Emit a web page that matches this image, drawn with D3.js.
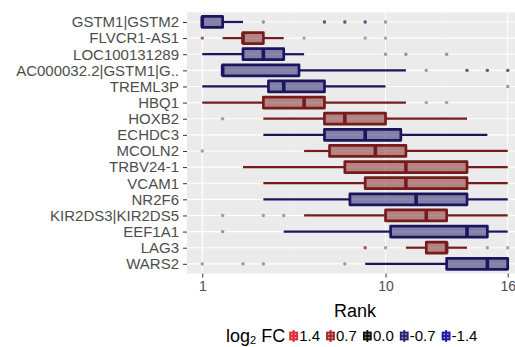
<!DOCTYPE html>
<html lang="en">
  <head>
    <meta charset="utf-8" />
    <title>rank boxplots</title>
    <script type="text/javascript" src="https://d3js.org/d3.v7.min.js"></script>
    <style>
      body { margin: 0; background: #fff; }
      text { font-family: "Liberation Sans", Arial, sans-serif; }
    </style>
  </head>
  <body>
    <div id="chart"></div>
    <script type="text/javascript">
      /********************************
       * data
       ********************************/

      const genes = [
        "GSTM1|GSTM2", "FLVCR1-AS1", "LOC100131289", "AC000032.2|GSTM1|G..",
        "TREML3P", "HBQ1", "HOXB2", "ECHDC3", "MCOLN2", "TRBV24-1", "VCAM1",
        "NR2F6", "KIR2DS3|KIR2DS5", "EEF1A1", "LAG3", "WARS2",
      ];
      const direction = ["down", "up", "down", "down", "down", "up", "up", "down",
                         "up", "up", "up", "down", "up", "down", "up", "down"];
      const whiskerLo = [1, 2, 1, 2, 1, 1, 4, 4, 6, 3, 4, 4, 6, 5, 11, 9];
      const q1 =        [1, 3, 3, 2, 4.25, 4, 7, 7, 7.25, 8, 9, 8.25, 10, 10.25, 12, 13];
      const median =    [1, 3, 4, 2, 5, 6, 8, 9, 9.5, 11, 11, 11.5, 12, 14, 13, 15];
      const q3 =        [2, 4, 5, 5.75, 7, 7, 10, 10.75, 11, 14, 14, 14, 13, 15, 13, 16];
      const whiskerHi = [3, 5, 6, 11, 10, 11, 14, 15, 16, 16, 16, 16, 16, 16, 14, 16];
      const outliers = [
        [4, 7, 7, 8, 8, 9, 9, 10],
        [1, 1, 6, 9, 10],
        [10, 11, 13],
        [12, 14, 14, 15, 15, 16, 16],
        [16],
        [12, 13],
        [2],
        [],
        [1],
        [],
        [],
        [],
        [2, 4, 5],
        [2],
        [9, 9, 10, 15, 16],
        [1, 3, 4, 8],
      ];

      const xTicks = [1, 10, 16];
      const xMinor = [5.5, 13];
      const legendLabels = ["1.4", "0.7", "0.0", "-0.7", "-1.4"];
      const legendColors = ["#dd2a30", "#a3292a", "#111111", "#2b2270", "#1b1aa6"];

      /***************************
       * svg + scales
       **************************/

      const width = 515;
      const height = 347;
      const panel = { left: 187, right: 523, top: 12.3, bottom: 273.5 };

      const svg = d3
        .select("div#chart")
        .append("svg")
        .attr("width", width)
        .attr("height", height);

      const x = d3.scaleLinear().domain([0.25, 16.75]).range([panel.left, panel.right]);
      const y = d3.scalePoint().domain(genes).range([panel.top, panel.bottom]).padding(0.6);

      const strokeColor = { up: "#771b1b", down: "#1b1560" };
      const boxH = 11;

      // panel background and grid
      svg.append("rect")
        .attr("x", panel.left).attr("y", panel.top)
        .attr("width", panel.right - panel.left)
        .attr("height", panel.bottom - panel.top)
        .attr("fill", "#ebebeb");

      svg.selectAll("line.minor")
        .data(xMinor)
        .enter()
        .append("line")
        .attr("x1", (d) => x(d)).attr("x2", (d) => x(d))
        .attr("y1", panel.top).attr("y2", panel.bottom)
        .style("stroke", "#f5f5f5").style("stroke-width", 0.6);

      svg.selectAll("line.vmajor")
        .data(xTicks)
        .enter()
        .append("line")
        .attr("x1", (d) => x(d)).attr("x2", (d) => x(d))
        .attr("y1", panel.top).attr("y2", panel.bottom)
        .style("stroke", "#fff").style("stroke-width", 1.1);

      svg.selectAll("line.hmajor")
        .data(genes)
        .enter()
        .append("line")
        .attr("x1", panel.left).attr("x2", panel.right)
        .attr("y1", (d) => y(d)).attr("y2", (d) => y(d))
        .style("stroke", "#fff").style("stroke-width", 1.1);

      /*******************
       * boxplots
       *********************/

      const rows = genes.map((g, i) => ({
        gene: g, dir: direction[i], lo: whiskerLo[i], q1: q1[i],
        med: median[i], q3: q3[i], hi: whiskerHi[i], out: outliers[i],
      }));

      const box = svg.selectAll("g.box")
        .data(rows)
        .enter()
        .append("g")
        .attr("transform", (d) => `translate(0,${y(d.gene)})`);

      box.append("line")
        .attr("x1", (d) => x(d.lo)).attr("x2", (d) => x(d.q1))
        .style("stroke", (d) => strokeColor[d.dir]).style("stroke-width", 2.2);
      box.append("line")
        .attr("x1", (d) => x(d.q3)).attr("x2", (d) => x(d.hi))
        .style("stroke", (d) => strokeColor[d.dir]).style("stroke-width", 2.2);

      box.append("rect")
        .attr("x", (d) => x(d.q1))
        .attr("y", -boxH / 2)
        .attr("width", (d) => x(d.q3) - x(d.q1))
        .attr("height", boxH)
        .attr("fill", (d) => strokeColor[d.dir])
        .attr("fill-opacity", 0.5)
        .attr("stroke", (d) => strokeColor[d.dir])
        .attr("stroke-width", 2.7)
        .attr("stroke-linejoin", "round");

      box.append("line")
        .attr("x1", (d) => x(d.med)).attr("x2", (d) => x(d.med))
        .attr("y1", -boxH / 2).attr("y2", boxH / 2)
        .style("stroke", (d) => strokeColor[d.dir]).style("stroke-width", 3.6);

      box.selectAll("circle")
        .data((d) => d.out.map((v) => ({ v: v, dir: d.dir })))
        .enter()
        .append("circle")
        .attr("cx", (d) => x(d.v))
        .attr("r", 1.7)
        .attr("fill", (d) => strokeColor[d.dir])
        .attr("fill-opacity", 0.45);

      /************************
       * axes
       ***********************/

      const yAxis = svg.append("g")
        .attr("transform", `translate(${panel.left},0)`)
        .call(d3.axisLeft(y).tickSize(4).tickPadding(4));
      const xAxis = svg.append("g")
        .attr("transform", `translate(0,${panel.bottom})`)
        .call(d3.axisBottom(x).tickValues(xTicks).tickSize(4).tickPadding(4).tickFormat(d3.format("d")));

      [yAxis, xAxis].forEach((a) => {
        a.select(".domain").remove();
        a.selectAll(".tick line").attr("stroke", "#333").attr("stroke-width", 1);
        a.selectAll(".tick text")
          .attr("fill", "#4d4d4d")
          .style("font-size", "15px")
          .style("font-family", '"Liberation Sans", Arial, sans-serif');
      });
      xAxis.selectAll(".tick text").style("font-size", "14px");

      svg.append("text")
        .attr("x", (panel.left + panel.right) / 2)
        .attr("y", 317)
        .attr("text-anchor", "middle")
        .style("font-size", "18px")
        .attr("fill", "#000")
        .text("Rank");

      /*******************
       * legend
       ***********************/

      const legend = svg.append("g").attr("transform", "translate(226,336)");
      const title = legend.append("text")
        .attr("y", 6)
        .style("font-size", "18px")
        .attr("fill", "#000");
      title.append("tspan").text("log");
      title.append("tspan").text("2").style("font-size", "11px").attr("dy", 2);
      title.append("tspan").text(" FC").attr("dy", -2);

      let lx = title.node().getComputedTextLength() + 5;
      legendLabels.forEach((lab, i) => {
        const c = legendColors[i];
        const k = legend.append("g").attr("transform", `translate(${lx},0)`);
        k.append("line").attr("x1", 3.5).attr("x2", 3.5).attr("y1", -6).attr("y2", 6)
          .style("stroke", c).style("stroke-width", 1.8);
        k.append("rect").attr("x", 0).attr("y", -3.5).attr("width", 7).attr("height", 7)
          .attr("fill", c).attr("fill-opacity", 0.5)
          .attr("stroke", c).attr("stroke-width", 1.8);
        k.append("line").attr("x1", 0).attr("x2", 7).attr("y1", 0).attr("y2", 0)
          .style("stroke", c).style("stroke-width", 1.8);
        const t = k.append("text")
          .attr("x", 9).attr("y", 5)
          .style("font-size", "15px")
          .attr("fill", "#000")
          .text(lab);
        lx += 9 + t.node().getComputedTextLength() + 7;
      });
    </script>
  </body>
</html>
